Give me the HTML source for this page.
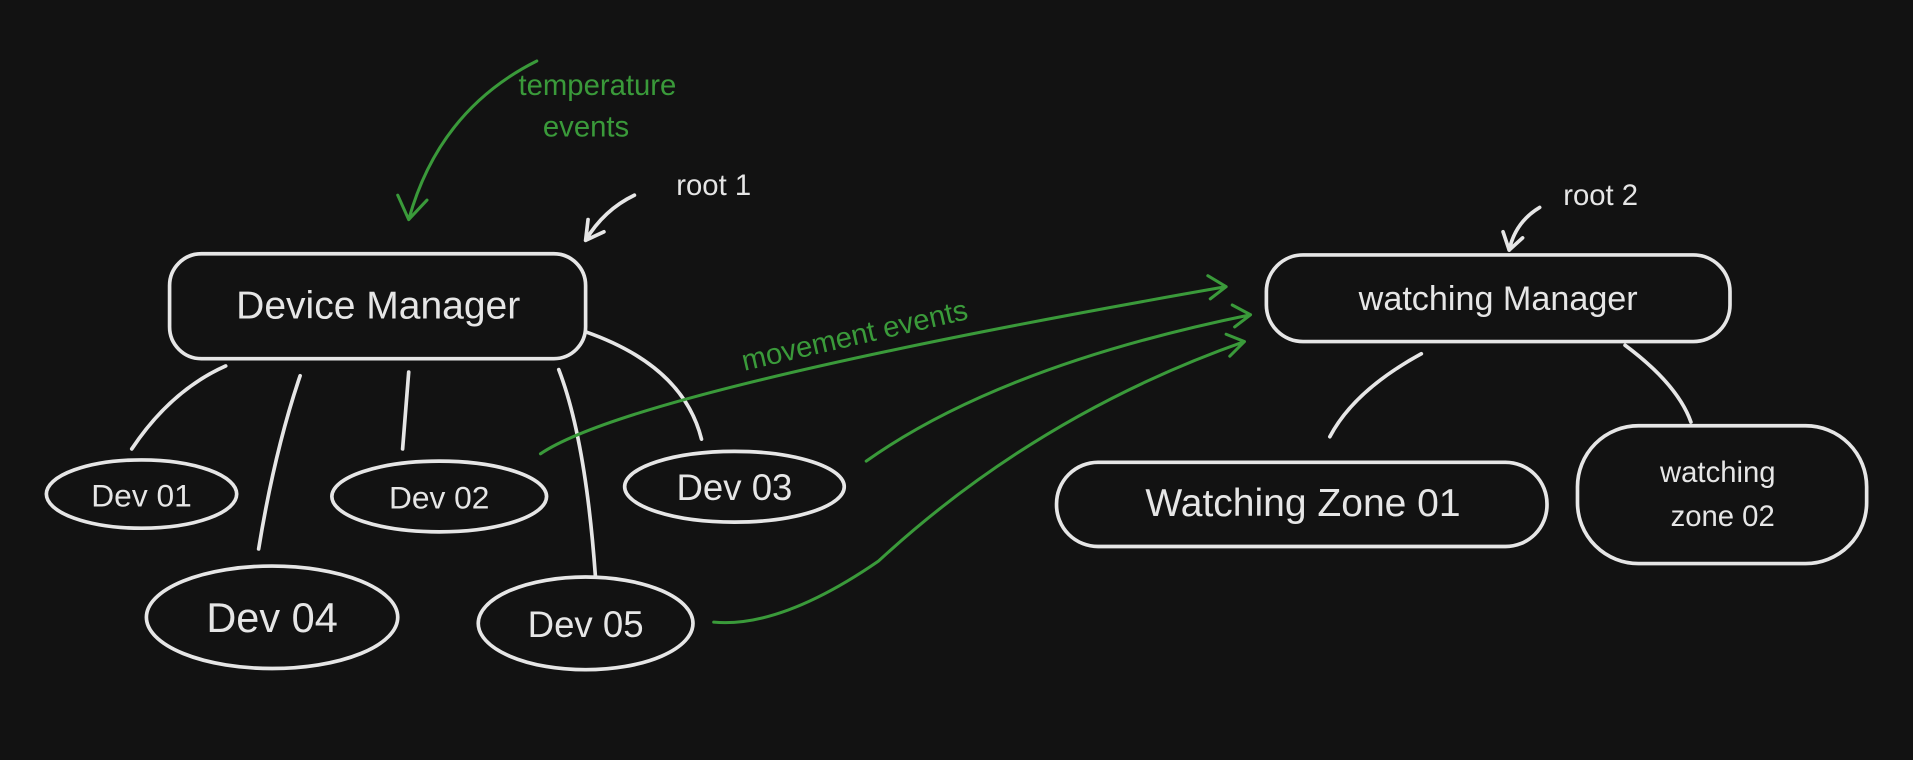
<!DOCTYPE html>
<html><head><meta charset="utf-8"><style>
html,body{margin:0;padding:0;background:#121212;}
svg{display:block}
text{font-family:"Liberation Sans",sans-serif;}
</style></head><body>
<svg width="1913" height="760" viewBox="0 0 1568 623" preserveAspectRatio="none" xmlns="http://www.w3.org/2000/svg">
<rect width="1568" height="623" fill="#121212"/>
<g fill="none" stroke="#e6e6e6" stroke-width="3" stroke-linecap="round">
<rect x="139" y="208" width="341" height="86" rx="26"/>
<ellipse cx="116" cy="405" rx="78" ry="28"/>
<ellipse cx="360" cy="407" rx="88" ry="29"/>
<ellipse cx="602" cy="399" rx="90" ry="29"/>
<ellipse cx="223" cy="506" rx="103" ry="42"/>
<ellipse cx="480" cy="511" rx="88" ry="38"/>
<rect x="1038" y="209" width="380" height="71" rx="30"/>
<rect x="866" y="379" width="402" height="69" rx="34"/>
<rect x="1293" y="349" width="237" height="113" rx="50"/>
<path d="M185 300 Q140 320 108 368"/>
<path d="M246 308 Q225 370 212 450"/>
<path d="M335 305 L330 368"/>
<path d="M458 303 Q480 360 488 472"/>
<path d="M480 272 Q560 300 575 360"/>
<path d="M1165 290 Q1110 320 1090 358"/>
<path d="M1332 283 Q1375 315 1386 346"/>
<path d="M520 160 Q495 172 480 197 M480 197 L482 180 M480 197 L495 190"/>
<path d="M1262 170 Q1242 182 1237 205 M1237 205 L1232 190 M1237 205 L1248 195"/>
</g>
<g fill="none" stroke="#3a9a3a" stroke-width="2.5" stroke-linecap="round">
<path d="M440 50 Q360 90 335 180 M335 180 L326 160 M335 180 L350 164"/>
<path d="M443 372 Q520 320 1005 235 M1005 235 L990 226 M1005 235 L992 245"/>
<path d="M710 378 Q820 300 1025 258 M1025 258 L1010 250 M1025 258 L1012 268"/>
<path d="M585 510 Q640 515 720 460 Q850 340 1020 280 M1020 280 L1005 274 M1020 280 L1008 292"/>
</g>
<g fill="#e6e6e6" font-size="32" text-anchor="middle">
<text x="310" y="261">Device Manager</text>
<text x="116" y="415" font-size="26">Dev 01</text>
<text x="360" y="417" font-size="26">Dev 02</text>
<text x="602" y="410" font-size="30">Dev 03</text>
<text x="223" y="518" font-size="34">Dev 04</text>
<text x="480" y="522" font-size="30">Dev 05</text>
<text x="1228" y="254" font-size="28">watching  Manager</text>
<text x="1068" y="423" font-size="32">Watching Zone 01</text>
<text x="1408" y="395" font-size="24">watching</text>
<text x="1412" y="431" font-size="24">zone 02</text>
<text x="585" y="160" font-size="24">root 1</text>
<text x="1312" y="168" font-size="24">root 2</text>
</g>
<g fill="#3a9a3a" font-size="24">
<text x="425" y="78">temperature</text>
<text x="445" y="112">events</text>
<text x="610" y="304" transform="rotate(-13 610 304)">movement  events</text>
</g>
</svg>
</body></html>
